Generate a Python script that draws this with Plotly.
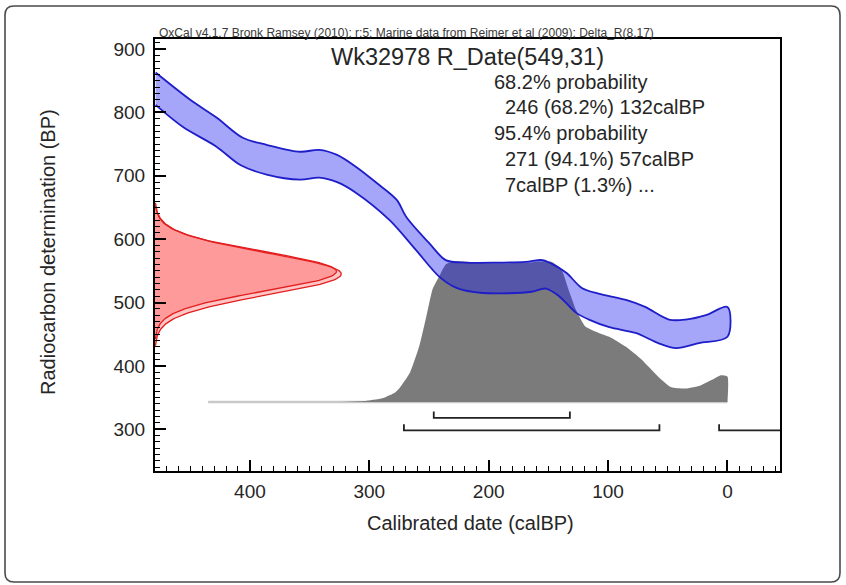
import numpy as np
import plotly.graph_objects as go

# ---------------------------------------------------------------------------
# Data
# ---------------------------------------------------------------------------
# Marine calibration curve envelope (calBP -> radiocarbon BP)
curve_upper_cal = [479, 450, 428, 406, 386, 358, 342, 327, 311, 294, 277, 269, 250,
                   236, 219, 191, 169, 155, 147, 135, 122, 108, 85, 69, 49, 35, 18, 0]
curve_upper_bp = [863, 820, 792, 760, 749, 738, 741, 733, 714, 689, 662, 635, 594,
                  567, 563, 563, 564, 567, 561, 547, 523, 514, 504, 493, 473, 473, 480, 493]
curve_lower_cal = [479, 456, 428, 408, 386, 358, 342, 327, 311, 283, 261, 241, 227,
                   205, 164, 152, 141, 127, 116, 99, 77, 58, 43, 24, 0]
curve_lower_bp = [812, 777, 746, 717, 702, 694, 697, 690, 673, 630, 583, 540, 523,
                  515, 517, 522, 510, 484, 473, 461, 452, 436, 428, 436, 446]

# Calibrated probability distribution (relative density)
post_cal = [435, 325, 308, 302, 291, 286, 279, 275, 266, 258, 252, 247, 241, 236,
            229, 216, 200, 183, 166, 154, 147, 139, 133, 127, 119, 108, 99, 85, 72,
            58, 47, 35, 24, 13, 6, 0]
post_rel = [0.0, 0.0, 0.005, 0.009, 0.023, 0.036, 0.063, 0.095, 0.207, 0.401, 0.617,
            0.802, 0.901, 0.977, 1.0, 0.995, 0.986, 0.986, 0.991, 1.0, 0.995, 0.941,
            0.797, 0.658, 0.536, 0.491, 0.464, 0.392, 0.302, 0.180, 0.104, 0.095,
            0.113, 0.158, 0.189, 0.180]

# Radiocarbon determination R_Date(549,31) and outer envelope
date_mu, date_sd = 549, 31
outer_mu, outer_sd = 545, 33

# Highest probability density ranges (calBP from, to)
range_68 = [(246, 132)]
range_95 = [(271, 57), (7, -60)]

x_ticks = [400, 300, 200, 100, 0]
y_ticks = [300, 400, 500, 600, 700, 800, 900]

title_text = "Wk32978 R_Date(549,31)"
subtitle_text = ("OxCal v4.1.7 Bronk Ramsey (2010); r:5; Marine data from "
                 "Reimer et al (2009); Delta_R(8,17)")
summary_lines = [
    ("68.2% probability", 0),
    ("246 (68.2%) 132calBP", 1),
    ("95.4% probability", 0),
    ("271 (94.1%) 57calBP", 1),
    ("7calBP (1.3%) ...", 1),
]

# ---------------------------------------------------------------------------
# Layout constants
# ---------------------------------------------------------------------------
W, H = 846, 585
ML, MR, MT, MB = 155, 66, 39, 114
PW, PH = W - ML - MR, H - MT - MB
X_RANGE = [479.5, -44]
Y_RANGE = [234, 916]

POST_BASE = 343      # baseline of calibrated distribution (BP units)
POST_HEIGHT = 222    # full height of calibrated distribution (BP units)
DATE_PEAK = 152      # horizontal extent of date distribution (years)
OUTER_PEAK = 156
LEVEL_68, LEVEL_95, BRACKET_TICK = 318, 298, 10

FONT = "Liberation Sans, Arial, Helvetica, sans-serif"
TXT = "#262626"


def px_to_paper(px, py):
    return (px - ML) / PW, (MT + PH - py) / PH


fig = go.Figure()

# Calibrated distribution: pale baseline, then density filled down to it
fig.add_trace(go.Scatter(
    x=[post_cal[0], post_cal[-1]], y=[POST_BASE, POST_BASE], mode="lines",
    line=dict(color="#c9c9c9", width=2.5), hoverinfo="skip", showlegend=False))
fig.add_trace(go.Scatter(
    x=[post_cal[1], post_cal[-1]], y=[POST_BASE, POST_BASE], mode="lines",
    line=dict(color="rgba(0,0,0,0)", width=0), hoverinfo="skip", showlegend=False))
fig.add_trace(go.Scatter(
    x=post_cal[1:] + [post_cal[-1]],
    y=[POST_BASE + POST_HEIGHT * r for r in post_rel[1:]] + [POST_BASE],
    mode="lines", fill="tonexty", fillcolor="#7b7b7b",
    line=dict(color="rgba(0,0,0,0)", width=0, shape="spline", smoothing=0.5),
    hoverinfo="skip", showlegend=False))

# Calibration curve band
bx = list(curve_upper_cal) + list(reversed(curve_lower_cal))
by = list(curve_upper_bp) + list(reversed(curve_lower_bp))
fig.add_trace(go.Scatter(
    x=bx, y=by, mode="lines", fill="toself", fillcolor="rgba(30,30,240,0.40)",
    line=dict(color="rgb(30,30,200)", width=1.8, shape="spline", smoothing=0.9),
    hoverinfo="skip", showlegend=False))


# Radiocarbon date distributions along the BP axis
def date_shape(mu, sd, peak):
    yy = np.linspace(mu - 3.4 * sd, mu + 3.4 * sd, 160)
    xx = X_RANGE[0] - peak * np.exp(-((yy - mu) ** 2) / (2 * sd ** 2))
    return (np.concatenate([[X_RANGE[0]], xx, [X_RANGE[0]]]),
            np.concatenate([[yy[0]], yy, [yy[-1]]]))


for mu, sd, peak in [(outer_mu, outer_sd, OUTER_PEAK), (date_mu, date_sd, DATE_PEAK)]:
    rx, ry = date_shape(mu, sd, peak)
    fig.add_trace(go.Scatter(
        x=rx, y=ry, mode="lines", fill="toself", fillcolor="rgba(255,40,40,0.27)",
        line=dict(color="rgb(225,30,30)", width=1.3),
        hoverinfo="skip", showlegend=False))


# Range brackets
def bracket_xy(ranges, level):
    xs, ys = [], []
    for a, b in ranges:
        xs += [a, a, b, b, None]
        ys += [level + BRACKET_TICK, level, level, level + BRACKET_TICK, None]
    return xs, ys


for rng, lvl in [(range_68, LEVEL_68), (range_95, LEVEL_95)]:
    xs, ys = bracket_xy(rng, lvl)
    fig.add_trace(go.Scatter(
        x=xs, y=ys, mode="lines", line=dict(color="#222222", width=1.8),
        hoverinfo="skip", showlegend=False))

# ---------------------------------------------------------------------------
# Text
# ---------------------------------------------------------------------------
annotations = []
x0, y0 = px_to_paper(157, 33)
annotations.append(dict(x=x0, y=y0, xref="paper", yref="paper", text=subtitle_text,
                        showarrow=False, xanchor="left", yanchor="middle",
                        font=dict(family=FONT, size=12, color="#3a3a3a")))
tx, ty = px_to_paper(467.5, 57)
annotations.append(dict(x=tx, y=ty, xref="paper", yref="paper", text=title_text,
                        showarrow=False, xanchor="center", yanchor="middle",
                        font=dict(family=FONT, size=23.5, color=TXT)))
line_y = [82, 107, 133, 159, 185]
for (txt, indent), py in zip(summary_lines, line_y):
    sx, sy = px_to_paper(492 + 11 * indent, py)
    annotations.append(dict(x=sx, y=sy, xref="paper", yref="paper", text=txt,
                            showarrow=False, xanchor="left", yanchor="middle",
                            font=dict(family=FONT, size=20, color=TXT)))
ax, ay = px_to_paper(470, 523)
annotations.append(dict(x=ax, y=ay, xref="paper", yref="paper",
                        text="Calibrated date (calBP)", showarrow=False,
                        xanchor="center", yanchor="middle",
                        font=dict(family=FONT, size=20, color=TXT)))
vx, vy = px_to_paper(48, 252)
annotations.append(dict(x=vx, y=vy, xref="paper", yref="paper",
                        text="Radiocarbon determination (BP)", showarrow=False,
                        textangle=-90, xanchor="center", yanchor="middle",
                        font=dict(family=FONT, size=20, color=TXT)))

# Rounded outer frame
fx0, fy0 = px_to_paper(5, 6)
fx1, fy1 = px_to_paper(840, 582)
rx_, ry_ = 9 / PW, 9 / PH
frame_path = (
    f"M {fx0 + rx_},{fy0} L {fx1 - rx_},{fy0} Q {fx1},{fy0} {fx1},{fy0 - ry_} "
    f"L {fx1},{fy1 + ry_} Q {fx1},{fy1} {fx1 - rx_},{fy1} "
    f"L {fx0 + rx_},{fy1} Q {fx0},{fy1} {fx0},{fy1 + ry_} "
    f"L {fx0},{fy0 - ry_} Q {fx0},{fy0} {fx0 + rx_},{fy0} Z"
)

axis_common = dict(
    showgrid=False, zeroline=False, showline=True, linecolor="black", linewidth=2,
    mirror=True, ticks="inside", ticklen=11, tickwidth=2, tickcolor="black",
    tickfont=dict(family=FONT, size=19, color=TXT),
)

fig.update_layout(
    width=W, height=H, autosize=False,
    margin=dict(l=ML, r=MR, t=MT, b=MB, pad=0),
    paper_bgcolor="white", plot_bgcolor="white",
    xaxis=dict(range=X_RANGE, tickvals=x_ticks, ticklabelstandoff=2,
               minor=dict(dtick=10, tick0=0, ticks="inside", ticklen=5,
                          tickwidth=1, tickcolor="black"),
               **axis_common),
    yaxis=dict(range=Y_RANGE, tickvals=y_ticks, ticklabelstandoff=4,
               minor=dict(dtick=10, tick0=0, ticks="inside", ticklen=5,
                          tickwidth=1, tickcolor="black"),
               **axis_common),
    annotations=annotations,
    shapes=[dict(type="path", xref="paper", yref="paper", path=frame_path,
                 line=dict(color="#4a4a4a", width=1.6), layer="above")],
    showlegend=False,
)

fig.write_html("out.html")
